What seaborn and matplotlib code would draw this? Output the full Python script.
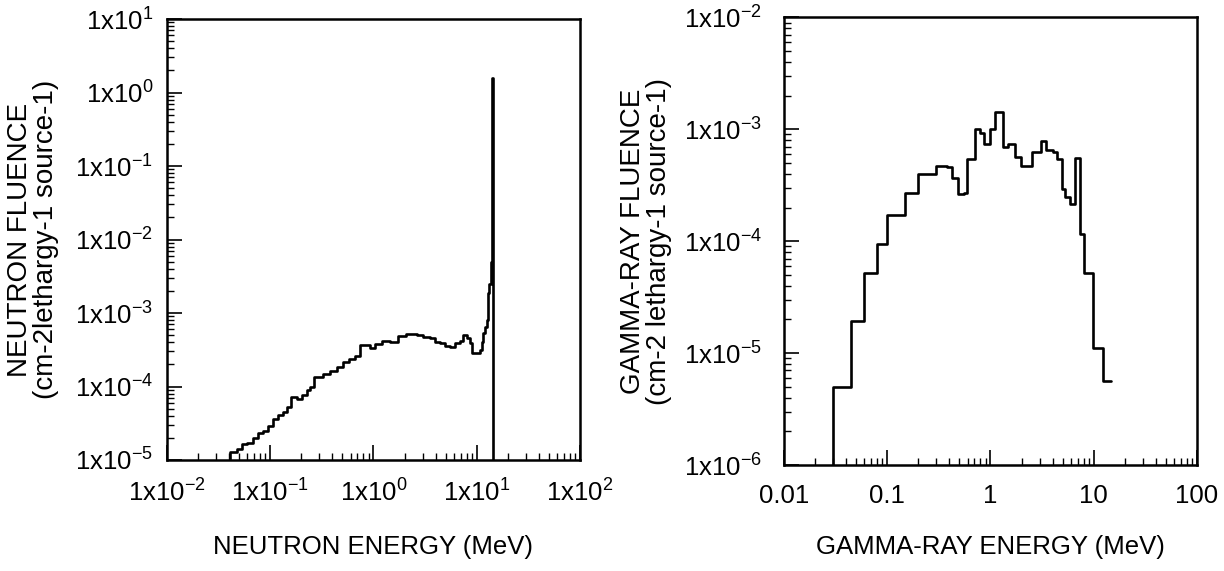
import matplotlib
matplotlib.use("Agg")
import matplotlib.pyplot as plt
import numpy as np
import pandas as pd
import seaborn as sns
from matplotlib.ticker import FuncFormatter, LogLocator, NullFormatter

# Neutron spectrum: bin edges (MeV) and fluence per lethargy in each bin
NEUTRON_EDGES = [0.0407, 0.0473, 0.0528, 0.0591, 0.0686, 0.0767, 0.0858, 0.0958, 0.107, 0.120,
                 0.134, 0.144, 0.159, 0.180, 0.202, 0.225, 0.243, 0.265, 0.327, 0.379,
                 0.440, 0.510, 0.583, 0.662, 0.740, 0.924, 1.035, 1.20, 1.445, 1.74,
                 2.09, 2.62, 3.04, 3.53, 3.94, 4.41, 4.93, 5.51, 6.15, 6.88,
                 7.41, 8.00, 8.61, 8.94, 10.0, 10.8, 11.2, 11.6, 12.0, 12.5,
                 12.9, 13.3, 13.7, 14.0, 14.2, 14.5]
NEUTRON_FLUENCE = [1.27e-5, 1.40e-5, 1.65e-5, 1.69e-5, 1.97e-5, 2.31e-5, 2.51e-5, 2.90e-5, 3.61e-5, 4.09e-5,
                   4.55e-5, 5.21e-5, 7.27e-5, 6.68e-5, 7.65e-5, 8.95e-5, 9.74e-5, 1.33e-4, 1.48e-4, 1.62e-4,
                   1.86e-4, 2.18e-4, 2.34e-4, 2.62e-4, 3.67e-4, 3.31e-4, 3.75e-4, 4.20e-4, 4.07e-4, 4.86e-4,
                   5.13e-4, 5.02e-4, 4.67e-4, 4.53e-4, 4.07e-4, 3.94e-4, 3.59e-4, 3.41e-4, 3.86e-4, 4.20e-4,
                   5.02e-4, 4.53e-4, 3.94e-4, 2.88e-4, 2.83e-4, 3.14e-4, 4.07e-4, 5.29e-4, 6.52e-4, 8.04e-4,
                   1.9e-3, 2.5e-3, 5.0e-3, 1.5e-2, 1.6]
NEUTRON_FLOOR = 1e-5

# Gamma-ray spectrum: bin edges (MeV) and fluence per lethargy in each bin
GAMMA_EDGES = [0.030, 0.045, 0.060, 0.080, 0.10, 0.15, 0.20, 0.30, 0.38, 0.42,
               0.49, 0.55, 0.59, 0.71, 0.80, 0.86, 0.99, 1.11, 1.33, 1.49,
               1.73, 1.97, 2.51, 3.08, 3.44, 4.06, 4.44, 4.90, 5.27, 5.90,
               6.58, 7.36, 8.05, 9.90, 12.2, 14.6]
GAMMA_FLUENCE = [5.0e-6, 1.95e-5, 5.2e-5, 9.5e-5, 1.73e-4, 2.7e-4, 4.0e-4, 4.7e-4, 4.6e-4, 3.7e-4,
                 2.64e-4, 2.7e-4, 5.4e-4, 1.01e-3, 9.2e-4, 7.4e-4, 1.0e-3, 1.43e-3, 6.9e-4, 7.4e-4,
                 5.7e-4, 4.7e-4, 6.3e-4, 7.85e-4, 6.6e-4, 6.3e-4, 5.45e-4, 2.93e-4, 2.47e-4, 2.15e-4,
                 5.56e-4, 1.16e-4, 5.25e-5, 1.11e-5, 5.6e-6]
GAMMA_FLOOR = 1e-6

GAMMA_XTICKS = [0.01, 0.1, 1, 10, 100]
GAMMA_XLABELS = ["0.01", "0.1", "1", "10", "100"]


def step_frame(edges, values, floor, close_end):
    # histogram outline: rise from the floor, one level per bin
    x = [edges[0]] + list(edges)
    y = [floor] + list(values) + [values[-1]]
    if close_end:
        x.append(edges[-1])
        y.append(floor)
    return pd.DataFrame({"energy": x, "fluence": y})


def sci_label(v, pos):
    e = int(round(np.log10(v)))
    return f"1x10$^{{{e}}}$"


def style_axes(ax, ypad):
    ax.set_xscale("log")
    ax.set_yscale("log")
    for s in ax.spines.values():
        s.set_linewidth(1.8)
        s.set_color("black")
    ax.xaxis.set_minor_locator(LogLocator(base=10, subs=np.arange(2, 10)))
    ax.yaxis.set_minor_locator(LogLocator(base=10, subs=np.arange(2, 10)))
    ax.xaxis.set_minor_formatter(NullFormatter())
    ax.yaxis.set_minor_formatter(NullFormatter())
    ax.tick_params(which="both", direction="in", bottom=True, left=True, top=False, right=False,
                   color="black", labelcolor="black")
    ax.tick_params(which="major", length=11, width=1.2, labelsize=18.5)
    ax.tick_params(which="minor", length=5, width=1.0)
    ax.tick_params(axis="x", which="major", pad=14)
    ax.tick_params(axis="y", which="major", pad=ypad)


sns.set_theme(style="white")
plt.rcParams["font.family"] = ["Liberation Sans", "DejaVu Sans"]
plt.rcParams["mathtext.default"] = "regular"
plt.rcParams["text.color"] = "black"
plt.rcParams["axes.labelcolor"] = "black"

fig = plt.figure(figsize=(12.24, 5.71), dpi=100)
ax1 = fig.add_axes([0.1364, 0.1944, 0.3374, 0.7723])
ax2 = fig.add_axes([0.6405, 0.1856, 0.3374, 0.7838])

# neutron panel
style_axes(ax1, 10)
neutron = step_frame(NEUTRON_EDGES, NEUTRON_FLUENCE, NEUTRON_FLOOR, True)
sns.lineplot(data=neutron, x="energy", y="fluence", ax=ax1, color="black", lw=1.9,
             estimator=None, sort=False, drawstyle="steps-post")
ax1.set_xlim(1e-2, 1e2)
ax1.set_ylim(1e-5, 1e1)
ax1.xaxis.set_major_formatter(FuncFormatter(sci_label))
ax1.yaxis.set_major_formatter(FuncFormatter(sci_label))
ax1.set_xlabel("NEUTRON ENERGY (MeV)", fontsize=18.5)
ax1.set_ylabel("NEUTRON FLUENCE\n(cm-2lethargy-1 source-1)", fontsize=20, linespacing=1.0)
ax1.xaxis.set_label_coords(0.5, -0.17)
ax1.yaxis.set_label_coords(-0.262, 0.5)

# gamma-ray panel
style_axes(ax2, 16)
gamma = step_frame(GAMMA_EDGES, GAMMA_FLUENCE, GAMMA_FLOOR, False)
sns.lineplot(data=gamma, x="energy", y="fluence", ax=ax2, color="black", lw=1.9,
             estimator=None, sort=False, drawstyle="steps-post")
ax2.set_xlim(0.01, 100)
ax2.set_ylim(1e-6, 1e-2)
ax2.set_xticks(GAMMA_XTICKS)
ax2.set_xticklabels(GAMMA_XLABELS)
ax2.yaxis.set_major_formatter(FuncFormatter(sci_label))
ax2.set_xlabel("GAMMA-RAY ENERGY (MeV)", fontsize=18.5)
ax2.set_ylabel("GAMMA-RAY FLUENCE\n(cm-2 lethargy-1 source-1)", fontsize=20, linespacing=1.0)
ax2.xaxis.set_label_coords(0.5, -0.156)
ax2.yaxis.set_label_coords(-0.271, 0.5)

fig.savefig("out.png", dpi=100, facecolor="white")
